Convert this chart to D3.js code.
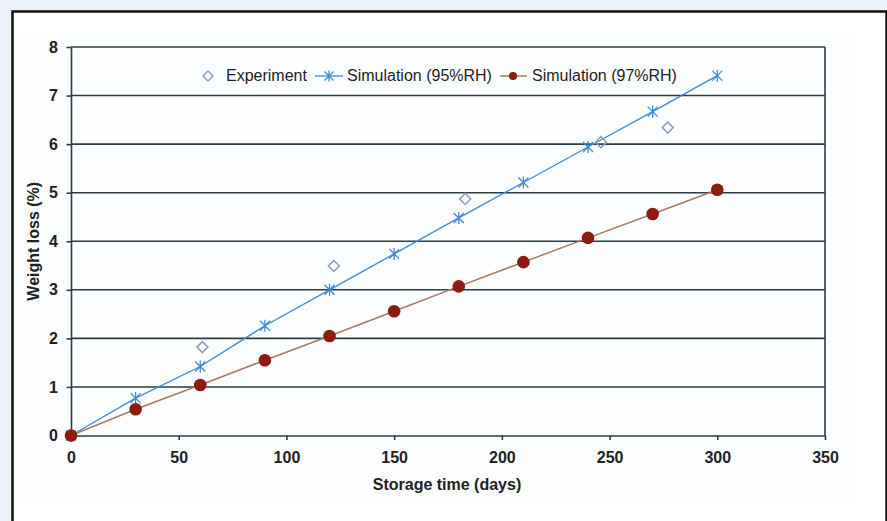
<!DOCTYPE html>
<html>
<head>
<meta charset="utf-8">
<script src="https://cdn.jsdelivr.net/npm/d3@7"></script>
<style>
  body { margin: 0; background: #eaf1f8; }
  svg { display: block; font-family: "Liberation Sans", Arial, sans-serif; }
</style>
</head>
<body>
<svg width="887" height="521"></svg>
<script>
'use strict'

// experiment points
const EXP_DAYS = [61, 122, 183, 246, 277];
const EXP_LOSS = [1.82, 3.49, 4.87, 6.04, 6.34];

// simulations
const SIM_DAYS = [0, 30, 60, 90, 120, 150, 180, 210, 240, 270, 300];
const SIM95 = [0, 0.77, 1.42, 2.26, 3.0, 3.74, 4.48, 5.21, 5.94, 6.67, 7.41];
const SIM97 = [0, 0.54, 1.04, 1.55, 2.05, 2.56, 3.07, 3.57, 4.07, 4.56, 5.06];

const X_TICKS = [0, 50, 100, 150, 200, 250, 300, 350];
const Y_TICKS = [0, 1, 2, 3, 4, 5, 6, 7, 8];

const LEGEND = ['Experiment', 'Simulation (95%RH)', 'Simulation (97%RH)'];

const BLUE = '#3f8ad8';
const RED = '#8c1b12';
const BROWN = '#a57c62';
const DIAMOND = '#8d9dc9';
const GRID = '#2b3d45';
const FONT = 16;

const svg = d3.select('svg');

// white panel with black frame
svg.append('rect')
  .attr('x', 12.5).attr('y', 11.5)
  .attr('width', 874).attr('height', 520)
  .attr('fill', '#fff').attr('stroke', '#111').attr('stroke-width', 2.5);

svg.append('rect')
  .attr('x', 18).attr('y', 33)
  .attr('width', 834).attr('height', 472)
  .attr('fill', '#fcfdfe');

const pLeft = 71, pRight = 825, pTop = 47, pBottom = 435.5;

const x = d3.scaleLinear().domain([0, 350]).range([pLeft, pRight]);
const y = d3.scaleLinear().domain([0, 8]).range([pBottom, pTop]);

// horizontal gridlines
svg.append('g')
  .selectAll('line')
  .data(Y_TICKS.slice(1))
  .join('line')
  .attr('x1', pLeft).attr('x2', pRight)
  .attr('y1', d => y(d)).attr('y2', d => y(d))
  .attr('stroke', GRID).attr('stroke-width', 1.6);

// right border
svg.append('line')
  .attr('x1', pRight).attr('x2', pRight)
  .attr('y1', pTop).attr('y2', pBottom)
  .attr('stroke', GRID).attr('stroke-width', 1.6);

const xAxis = svg.append('g')
  .attr('transform', `translate(0,${pBottom})`)
  .call(d3.axisBottom(x).tickValues(X_TICKS).tickSize(4.5).tickSizeOuter(0).tickPadding(12));

const yAxis = svg.append('g')
  .attr('transform', `translate(${pLeft},0)`)
  .call(d3.axisLeft(y).tickValues(Y_TICKS).tickSize(4.5).tickSizeOuter(0).tickPadding(8.5));

[xAxis, yAxis].forEach(g => {
  g.select('.domain').attr('stroke', GRID).attr('stroke-width', 1.6);
  g.selectAll('.tick line').attr('stroke', GRID).attr('stroke-width', 1.6);
  g.selectAll('.tick text')
    .attr('fill', '#222').attr('font-size', FONT).attr('font-weight', 'bold')
    .attr('font-family', '"Liberation Sans", Arial, sans-serif');
});

svg.append('text')
  .attr('x', x(175) - 1).attr('y', 490)
  .attr('text-anchor', 'middle')
  .attr('font-size', FONT).attr('font-weight', 'bold').attr('fill', '#222')
  .text('Storage time (days)');

svg.append('text')
  .attr('transform', `translate(39,${y(4)}) rotate(-90)`)
  .attr('text-anchor', 'middle')
  .attr('font-size', FONT).attr('font-weight', 'bold').attr('fill', '#222')
  .text('Weight loss (%)');

const line = d3.line().x(d => x(d[0])).y(d => y(d[1]));

const sim95 = SIM_DAYS.map((d, i) => [d, SIM95[i]]);
const sim97 = SIM_DAYS.map((d, i) => [d, SIM97[i]]);
const exp = EXP_DAYS.map((d, i) => [d, EXP_LOSS[i]]);

function star(s) {
  return `M${-s},${-s}L${s},${s}M${-s},${s}L${s},${-s}M0,${-s * 1.2}L0,${s * 1.2}`;
}
function diamond(s) {
  return `M0,${-s}L${s},0L0,${s}L${-s},0Z`;
}

svg.append('path').datum(sim97)
  .attr('d', line).attr('fill', 'none')
  .attr('stroke', BROWN).attr('stroke-width', 1.5);

svg.append('path').datum(sim95)
  .attr('d', line).attr('fill', 'none')
  .attr('stroke', BLUE).attr('stroke-width', 1.3);

svg.append('g').selectAll('path')
  .data(exp)
  .join('path')
  .attr('transform', d => `translate(${x(d[0])},${y(d[1])})`)
  .attr('d', diamond(5.5))
  .attr('fill', 'none').attr('stroke', DIAMOND).attr('stroke-width', 1.5);

svg.append('g').selectAll('path')
  .data(sim95)
  .join('path')
  .attr('transform', d => `translate(${x(d[0])},${y(d[1])})`)
  .attr('d', star(5))
  .attr('fill', 'none').attr('stroke', BLUE).attr('stroke-width', 1.3);

svg.append('g').selectAll('circle')
  .data(sim97)
  .join('circle')
  .attr('cx', d => x(d[0])).attr('cy', d => y(d[1]))
  .attr('r', 6.3)
  .attr('fill', RED);

// legend
const lg = svg.append('g').attr('font-size', FONT).attr('fill', '#1e1e1e');
lg.append('path')
  .attr('transform', 'translate(208,76)')
  .attr('d', diamond(5))
  .attr('fill', 'none').attr('stroke', DIAMOND).attr('stroke-width', 1.5);
lg.append('text').attr('x', 226).attr('y', 81).text(LEGEND[0]);

lg.append('line').attr('x1', 315).attr('x2', 343).attr('y1', 76).attr('y2', 76)
  .attr('stroke', BLUE).attr('stroke-width', 1.3);
lg.append('path').attr('transform', 'translate(329,76)')
  .attr('d', star(4.5)).attr('fill', 'none').attr('stroke', BLUE).attr('stroke-width', 1.3);
lg.append('text').attr('x', 347).attr('y', 81).text(LEGEND[1]);

lg.append('line').attr('x1', 500).attr('x2', 527).attr('y1', 76).attr('y2', 76)
  .attr('stroke', BROWN).attr('stroke-width', 1.5);
lg.append('circle').attr('cx', 513).attr('cy', 76).attr('r', 4).attr('fill', RED);
lg.append('text').attr('x', 532).attr('y', 81).text(LEGEND[2]);
</script>
</body>
</html>
